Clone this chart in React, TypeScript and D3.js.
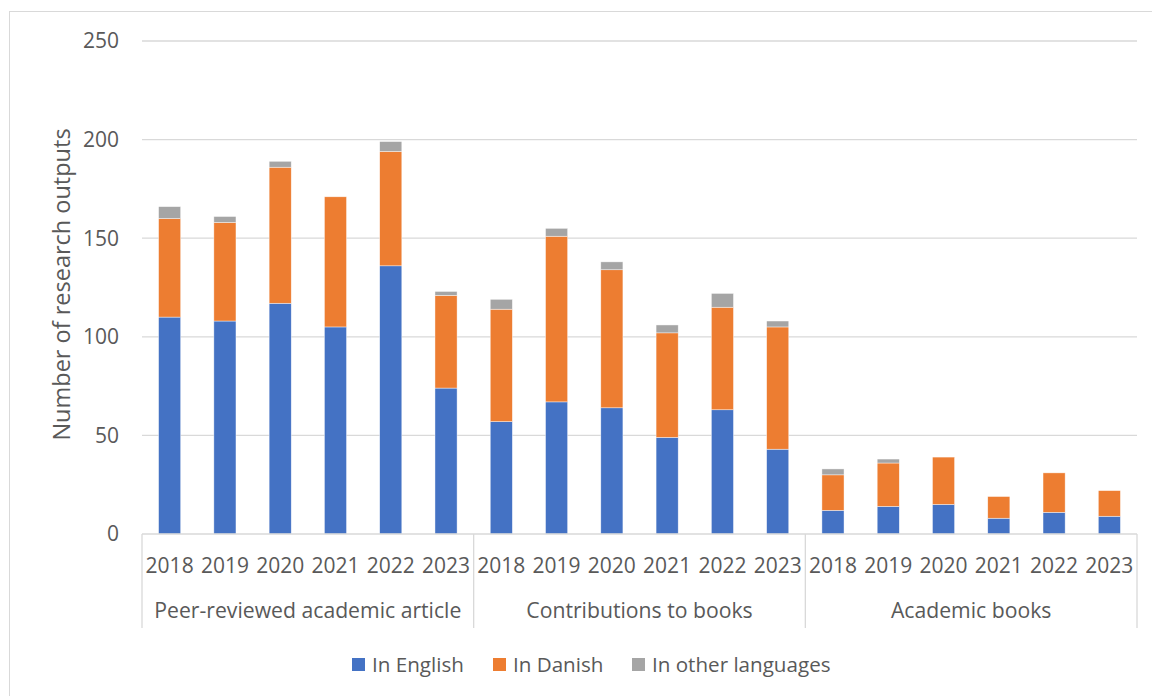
import React from "react";
import * as d3 from "d3";

const groups = ["Peer-reviewed academic article", "Contributions to books", "Academic books"];
const years = ["2018", "2019", "2020", "2021", "2022", "2023"];
const seriesNames = ["In English", "In Danish", "In other languages"];
const seriesColors = ["#4472c4", "#ed7d31", "#a5a5a5"];
const english = [110, 108, 117, 105, 136, 74, 57, 67, 64, 49, 63, 43, 12, 14, 15, 8, 11, 9];
const danish = [50, 50, 69, 66, 58, 47, 57, 84, 70, 53, 52, 62, 18, 22, 24, 11, 20, 13];
const other = [6, 3, 3, 0, 5, 2, 5, 4, 4, 4, 7, 3, 3, 2, 0, 0, 0, 0];
const yTicks = [0, 50, 100, 150, 200, 250];

const W = 1152;
const H = 696;
const left = 142;
const right = 1137;
const top = 41;
const bottom = 534;
const FONT = "'Open Sans', 'Noto Sans', sans-serif";
const TXT = "#595959";

export default function App() {
  const keys = groups.flatMap((g, gi) => years.map((y) => `${gi}-${y}`));
  const rows = keys.map((k, i) => ({ key: k, english: english[i], danish: danish[i], other: other[i] }));
  const x = d3.scaleBand<string>().domain(keys).range([left, right]).paddingInner(0.6).paddingOuter(0.3);
  const y = d3.scaleLinear().domain([0, 250]).range([bottom, top]);
  const stack = d3.stack<any>().keys(["english", "danish", "other"]);
  const stacked = stack(rows);
  const step = x.step();
  const groupW = step * years.length;

  const legendItems = [
    { name: seriesNames[0], x: 352 },
    { name: seriesNames[1], x: 493 },
    { name: seriesNames[2], x: 632 },
  ];

  return (
    <svg width={W} height={H} style={{ position: "absolute", left: 0, top: 0, background: "#fff" }} fontFamily={FONT}>
      <rect x={9.5} y={11.5} width={1300} height={900} fill="#fff" stroke="#d9d9d9" strokeWidth={1} />
      {yTicks.map((t) => (
        <g key={t}>
          {t > 0 && <line x1={left} x2={right} y1={y(t)} y2={y(t)} stroke="#d9d9d9" strokeWidth={1.3} />}
          <text x={119} y={y(t)} dy="0.35em" textAnchor="end" fontSize={21} fill={TXT}>
            {t}
          </text>
        </g>
      ))}
      <text
        transform={`translate(62,${(top + bottom) / 2 - 3}) rotate(-90)`}
        textAnchor="middle"
        dy="0.35em"
        fontSize={23.5}
        fill={TXT}
      >
        Number of research outputs
      </text>
      {stacked.map((s, si) => (
        <g key={si} fill={seriesColors[si]}>
          {s.map((d, i) =>
            d[1] - d[0] > 0 ? (
              <rect
                key={i}
                x={x(keys[i])!}
                width={x.bandwidth()}
                y={y(d[1])}
                height={y(d[0]) - y(d[1])}
                stroke="#fff"
                strokeWidth={0.6}
                strokeOpacity={0.7}
              />
            ) : null
          )}
        </g>
      ))}
      <line x1={left} x2={right} y1={bottom} y2={bottom} stroke="#d9d9d9" strokeWidth={1.3} />
      {[0, 1, 2, 3].map((i) => (
        <line key={i} x1={left + i * groupW} x2={left + i * groupW} y1={bottom} y2={628} stroke="#d9d9d9" strokeWidth={1.3} />
      ))}
      {keys.map((k, i) => (
        <text key={k} x={x(k)! + x.bandwidth() / 2} y={566} dy="0.35em" textAnchor="middle" fontSize={21} fill={TXT}>
          {years[i % years.length]}
        </text>
      ))}
      {groups.map((g, gi) => (
        <text key={g} x={left + gi * groupW + groupW / 2} y={611} dy="0.35em" textAnchor="middle" fontSize={21.2} fill={TXT}>
          {g}
        </text>
      ))}
      {legendItems.map((l, i) => (
        <g key={l.name}>
          <rect x={l.x} y={658} width={13} height={13} fill={seriesColors[i]} />
          <text x={l.x + 20} y={664.5} dy="0.35em" fontSize={20.6} fill={TXT}>
            {l.name}
          </text>
        </g>
      ))}
    </svg>
  );
}
